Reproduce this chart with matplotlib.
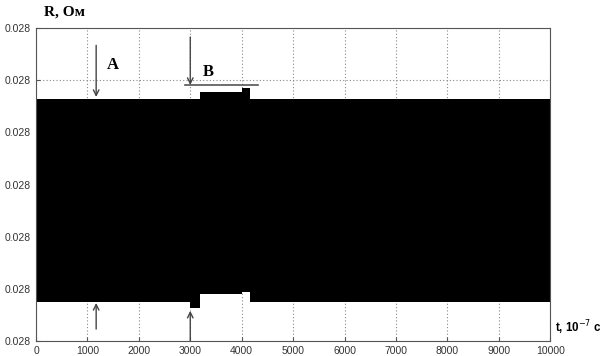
import matplotlib
matplotlib.use("Agg")
import matplotlib.pyplot as plt

# envelope of the dense oscillation, in units of 1e-5 Ohm above 0.028
edge_t = [0, 3000, 3190, 4000, 4170, 10000]
upper = [4.64, 4.64, 4.77, 4.86, 4.64, 4.64]
lower = [0.75, 0.63, 0.90, 0.94, 0.75, 0.75]

x_ticks = list(range(0, 10001, 1000))
y_ticks = [0.02800 + k * 1e-5 for k in range(7)]

base = 0.028
scale = 1e-5

fig = plt.figure(figsize=(6, 3.56), dpi=100)
ax = fig.add_axes([0.06, 0.042, 0.857, 0.879])

ax.fill_between(edge_t, [base + l * scale for l in lower],
                [base + u * scale for u in upper], step="post",
                color="black", lw=0, zorder=2)

ax.set_xlim(0, 10000)
ax.set_ylim(y_ticks[0], y_ticks[-1])
ax.set_xticks(x_ticks)
ax.set_yticks(y_ticks)
ax.set_yticklabels(["%.3f" % v for v in y_ticks])
for lab in ax.get_xticklabels() + ax.get_yticklabels():
    lab.set_family("Liberation Sans")
ax.grid(True, color="#888888", linestyle=(0, (1, 2)), linewidth=0.8, zorder=1)
ax.set_axisbelow(True)
ax.tick_params(direction="in", length=3, labelsize=7.5, labelcolor="#333333",
               color="#555555")
for s in ax.spines.values():
    s.set_color("#555555")
    s.set_zorder(5)

ax.text(0.016, 1.051, "R, Ом", transform=ax.transAxes, family="Liberation Serif",
        fontweight="bold", fontsize=11, ha="left", va="center")
ax.text(1.009, 0.042, "t, 10$^{-7}$ c", transform=ax.transAxes, family="Liberation Sans",
        fontweight="bold", fontsize=8.3, ha="left", va="center")

arrow = dict(arrowstyle="->", color="#444444", lw=1, shrinkA=0, shrinkB=0)
ax.annotate("", xy=(1170, base + 4.68 * scale), xytext=(1170, base + 5.67 * scale),
            arrowprops=arrow)
ax.annotate("", xy=(1170, base + 0.73 * scale), xytext=(1170, base + 0.23 * scale),
            arrowprops=arrow)
ax.annotate("", xy=(3000, base + 4.91 * scale), xytext=(3000, base + 5.83 * scale),
            arrowprops=arrow)
ax.annotate("", xy=(3000, base + 0.58 * scale), xytext=(3000, base + 0.0 * scale),
            arrowprops=arrow)
ax.plot([2900, 4320], [base + 4.91 * scale] * 2, color="#555555", lw=1.2, zorder=4)

ax.text(1500, base + 5.3 * scale, "A", family="Liberation Serif", fontweight="bold",
        fontsize=12, ha="center", va="center")
ax.text(3350, base + 5.15 * scale, "B", family="Liberation Serif", fontweight="bold",
        fontsize=12, ha="center", va="center")

fig.savefig("out.png", dpi=100)
